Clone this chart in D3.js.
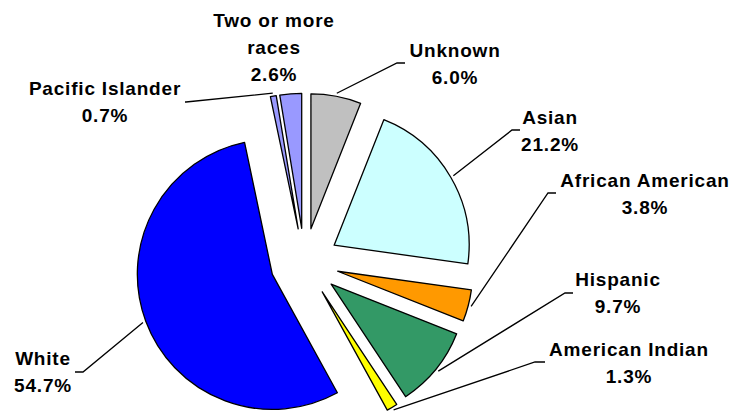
<!DOCTYPE html>
<html>
<head>
<meta charset="utf-8">
<script src="https://cdn.jsdelivr.net/npm/d3@7"></script>
<style>
  body { margin: 0; background: #fff; }
  svg text { font-family: "Liberation Sans", Arial, sans-serif; font-weight: bold; fill: #000; }
</style>
</head>
<body>
<div id="chart"></div>
<script>
// 데이터 (12시 방향부터 시계방향)
const categories = ["Unknown", "Asian", "African American", "Hispanic", "American Indian", "White", "Pacific Islander", "Two or more races"];
const values = [6.0, 21.2, 3.8, 9.7, 1.3, 54.7, 0.7, 2.6];
const labelLines = [["Unknown"], ["Asian"], ["African American"], ["Hispanic"], ["American Indian"], ["White"], ["Pacific Islander"], ["Two or more", "races"]];
const colors = ["#C0C0C0", "#CCFFFF", "#FF9900", "#339966", "#FFFF00", "#0000FF", "#9999FF", "#9999FF"];

// 라벨 배치 (텍스트 중심, 첫 줄 baseline, 꺾이는 점, 끝점)
const labelLayout = [
    { x: 455, y: 57, elbow: [397, 63], end: [405, 63] },
    { x: 550, y: 124, elbow: [512, 130], end: [520, 130] },
    { x: 645, y: 187, elbow: [548, 193], end: [556, 193] },
    { x: 618, y: 286, elbow: [565, 293], end: [573, 293] },
    { x: 629, y: 356, elbow: [535, 362], end: [545, 362] },
    { x: 43, y: 365, elbow: [83, 372], end: [75, 372] },
    { x: 105, y: 95, elbow: [186, 102], end: [185, 102] },
    { x: 274, y: 27, elbow: null, end: null }
];

const width = 736, height = 412;
const cx = 304.5, cy = 262.5;   // 파이 중심
const radius = 135;
const explode = 34.3;            // 조각 분리 거리
const lineH = 27;

const svg = d3.select("#chart")
    .append("svg")
    .attr("width", width)
    .attr("height", height);

const pie = d3.pie().sort(null).value(d => d)(values);
const arc = d3.arc().innerRadius(0).outerRadius(radius);

const g = svg.append("g").attr("transform", `translate(${cx},${cy})`);

// 조각 중심 방향 오프셋
function offset(d, dist) {
    const m = (d.startAngle + d.endAngle) / 2;
    return [Math.sin(m) * dist, -Math.cos(m) * dist];
}

g.selectAll("path")
    .data(pie)
    .enter().append("path")
    .attr("d", arc)
    .attr("transform", d => { const o = offset(d, explode); return `translate(${o[0]},${o[1]})`; })
    .attr("fill", (d, i) => colors[i])
    .attr("stroke", "#000")
    .attr("stroke-width", 1.3)
    .attr("stroke-linejoin", "round");

// 지시선
pie.forEach((d, i) => {
    const L = labelLayout[i];
    if (!L.elbow) return;
    const o = offset(d, explode);
    const p = offset(d, radius + 3);
    const start = [cx + o[0] + p[0], cy + o[1] + p[1]];
    svg.append("polyline")
        .attr("points", [start, L.elbow, L.end].map(q => q.join(",")).join(" "))
        .attr("fill", "none")
        .attr("stroke", "#000")
        .attr("stroke-width", 1.3);
});

// 라벨 텍스트
pie.forEach((d, i) => {
    const L = labelLayout[i];
    const lines = labelLines[i].concat([values[i].toFixed(1) + "%"]);
    const t = svg.append("text")
        .attr("text-anchor", "middle")
        .style("font-size", "19px")
        .style("letter-spacing", "0.8px");
    lines.forEach((s, k) => {
        t.append("tspan").attr("x", L.x).attr("y", L.y + k * lineH).text(s);
    });
});
</script>
</body>
</html>
